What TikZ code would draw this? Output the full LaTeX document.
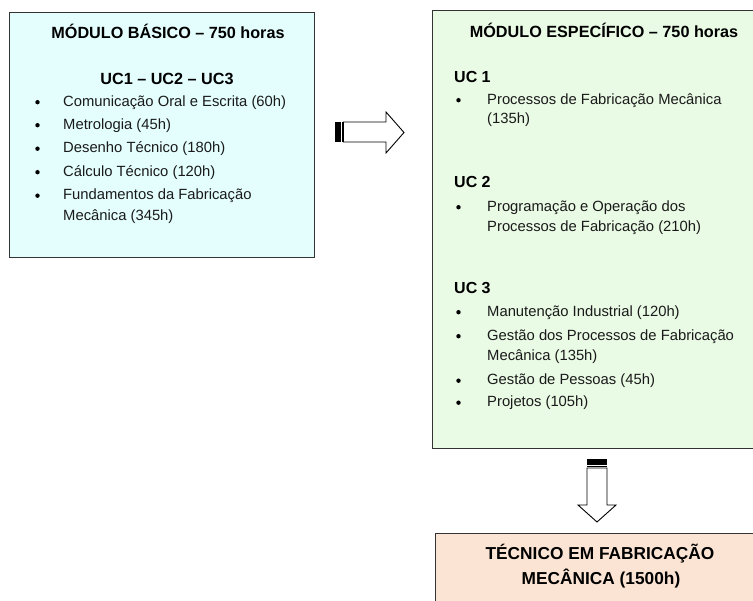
\documentclass[tikz,border=0pt]{standalone}
\usepackage{fontspec}
\setmainfont{Liberation Sans}
\definecolor{cyanbg}{HTML}{E4FEFE}
\definecolor{greenbg}{HTML}{E9FAE5}
\definecolor{peachbg}{HTML}{FCE4D4}
\definecolor{edge}{HTML}{333333}
\definecolor{txt}{HTML}{1A1A1A}
\begin{document}
\begin{tikzpicture}[x=1pt,y=-1pt,
  boxstyle/.style={draw=edge,line width=1.3pt,inner sep=0pt,anchor=north west},
  ttl/.style={font=\fontsize{16.2}{19}\selectfont\bfseries,anchor=base,inner sep=0pt,text=black},
  uc/.style={font=\fontsize{16}{19}\selectfont\bfseries,anchor=base west,inner sep=0pt,text=black},
  item/.style={font=\fontsize{14.8}{17}\selectfont,anchor=base west,inner sep=0pt,text=txt},
  fin/.style={font=\fontsize{17.3}{20}\selectfont\bfseries,anchor=base,inner sep=0pt,text=black},
  bul/.style={circle,fill=black,inner sep=0pt,minimum size=4.4pt},
  arrowbody/.style={draw=black,line width=0.9pt,fill=white,line join=miter}]
\useasboundingbox (0,0) rectangle (753,601);
\clip (0,0) rectangle (753,601);
\fill[white] (0,0) rectangle (753,601);
% boxes
\node[boxstyle,fill=cyanbg,minimum width=305pt,minimum height=245pt] (basic) at (9,12) {};
\node[boxstyle,fill=greenbg,minimum width=340pt,minimum height=438pt] (espec) at (432,10) {};
\node[boxstyle,fill=peachbg,minimum width=340pt,minimum height=90pt] (final) at (435,533) {};
% basic box texts
\node[ttl] (t1) at (168,38.5) {MÓDULO BÁSICO – 750 horas};
\node[ttl] (t1b) at (167,84.5) {UC1 – UC2 – UC3};
\foreach \n/\yy/\tt in {a/106.5/{Comunicação Oral e Escrita (60h)},b/129.5/{Metrologia (45h)},c/153/{Desenho Técnico (180h)},d/176.5/{Cálculo Técnico (120h)},e/200/{Fundamentos da Fabricação}}{
  \node[bul] (ba\n) at (37.5,\yy-4.3) {};
  \node[item] (ia\n) at (63,\yy) {\tt};
}
\node[item] (iaf) at (63,221) {Mecânica (345h)};
% specific box texts
\node[ttl] (t2) at (604,38) {MÓDULO ESPECÍFICO – 750 horas};
\node[uc] (u1) at (454,83) {UC 1};
\node[bul] (bb1) at (458.5,100.2) {};
\node[item] (ib1) at (487,104.5) {Processos de Fabricação Mecânica};
\node[item] (ib1b) at (487,124) {(135h)};
\node[uc] (u2) at (454,188) {UC 2};
\node[bul] (bb2) at (458.5,207.2) {};
\node[item] (ib2) at (487,211.5) {Programação e Operação dos};
\node[item] (ib2b) at (487,231.5) {Processos de Fabricação (210h)};
\node[uc] (u3) at (454,294) {UC 3};
\foreach \n/\yy/\tt in {a/316.5/{Manutenção Industrial (120h)},b/340.5/{Gestão dos Processos de Fabricação},c/385/{Gestão de Pessoas (45h)},d/407/{Projetos (105h)}}{
  \node[bul] (bc\n) at (458.5,\yy-4.3) {};
  \node[item] (ic\n) at (487,\yy) {\tt};
}
\node[item] (icb2) at (487,360.5) {Mecânica (135h)};
% final box text
\node[fin] (f1) at (600,559) {TÉCNICO EM FABRICAÇÃO};
\node[fin] (f2) at (601,584) {MECÂNICA (1500h)};
% right striped arrow
\fill[black] (335,122) rectangle (340.5,142);
\fill[black] (341.6,122) rectangle (342.4,142);
\draw[arrowbody] (343.5,122) -- (386,122) -- (386,112) -- (404,132.5) -- (386,153) -- (386,142) -- (343.5,142) -- cycle;
% down striped arrow
\fill[black] (587,459.5) rectangle (607,465);
\fill[black] (587,466.2) rectangle (607,467);
\draw[arrowbody] (587,468) -- (587,505) -- (578,505) -- (597,522) -- (616,505) -- (607,505) -- (607,468) -- cycle;
\end{tikzpicture}
\end{document}
